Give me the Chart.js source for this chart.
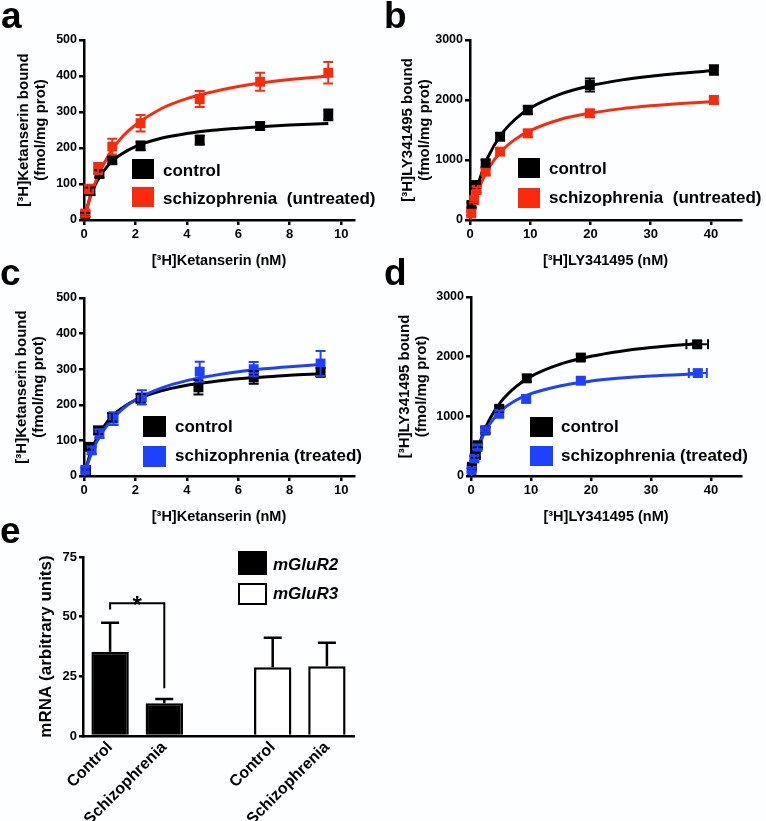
<!DOCTYPE html>
<html>
<head>
<meta charset="utf-8">
<script src="https://cdn.jsdelivr.net/npm/chart.js@4.4.1/dist/chart.umd.min.js"></script>
<style>
  body { margin: 0; background: #fdfeff; }
  #fig { position: relative; width: 766px; height: 821px; background: #fdfeff; overflow: hidden;
         font-family: 'Liberation Sans', Arial, sans-serif; font-weight: bold; color: #000; }
  canvas { position: absolute; }
  .letter { position: absolute; font-size: 37px; line-height: 37px; }
  .box { position: absolute; }
  .lab { position: absolute; font-size: 17px; line-height: 20px; white-space: pre; }
  .it { font-style: italic; }
</style>
</head>
<body>
<div id="fig">
  <canvas id="chartA" width="383" height="273" style="left:0;top:0"></canvas>
  <canvas id="chartB" width="383" height="273" style="left:383px;top:0"></canvas>
  <canvas id="chartC" width="383" height="249" style="left:0;top:280px"></canvas>
  <canvas id="chartD" width="383" height="249" style="left:383px;top:280px"></canvas>
  <canvas id="chartE" width="400" height="281" style="left:0;top:540px"></canvas>

  <div class="letter" style="left:1px;top:-3px">a</div>
  <div class="letter" style="left:384px;top:-3px">b</div>
  <div class="letter" style="left:0;top:254px">c</div>
  <div class="letter" style="left:384px;top:254px">d</div>
  <div class="letter" style="left:0;top:512px">e</div>

  <!-- legends -->
  <div class="box" style="left:132px;top:159px;width:22px;height:20px;background:#000"></div>
  <div class="lab" style="left:163px;top:161px">control</div>
  <div class="box" style="left:132px;top:187px;width:22px;height:20px;background:rgb(250,42,12)"></div>
  <div class="lab" style="left:163px;top:189px">schizophrenia  (untreated)</div>

  <div class="box" style="left:518px;top:158px;width:22px;height:20px;background:#000"></div>
  <div class="lab" style="left:549px;top:159px">control</div>
  <div class="box" style="left:518px;top:188px;width:22px;height:20px;background:rgb(250,42,12)"></div>
  <div class="lab" style="left:549px;top:188px">schizophrenia  (untreated)</div>

  <div class="box" style="left:143px;top:416px;width:23px;height:21px;background:#000"></div>
  <div class="lab" style="left:175px;top:417px">control</div>
  <div class="box" style="left:143px;top:446px;width:23px;height:21px;background:rgb(30,64,255)"></div>
  <div class="lab" style="left:175px;top:446px">schizophrenia (treated)</div>

  <div class="box" style="left:530px;top:417px;width:23px;height:20px;background:#000"></div>
  <div class="lab" style="left:561px;top:417px">control</div>
  <div class="box" style="left:530px;top:446px;width:23px;height:20px;background:rgb(30,64,255)"></div>
  <div class="lab" style="left:561px;top:446px">schizophrenia (treated)</div>

  <div class="box" style="left:238px;top:551px;width:29px;height:24px;background:#000"></div>
  <div class="lab it" style="left:273px;top:555px">mGluR2</div>
  <div class="box" style="left:238px;top:583px;width:25px;height:18px;background:#fff;border:2.5px solid #000"></div>
  <div class="lab it" style="left:273px;top:584px">mGluR3</div>
</div>

<script>
Chart.defaults.font.family = "'Liberation Sans', Arial, sans-serif";
Chart.defaults.font.weight = 'bold';
Chart.defaults.color = '#000';
Chart.defaults.animation = false;

const RED = 'rgb(250,42,12)';
const BLUE = 'rgb(30,64,255)';

// a: [3H]Ketanserin saturation, control vs untreated schizophrenia
const aCtrlX = [0.05, 0.25, 0.6, 1.1, 2.2, 4.5, 6.85, 9.5];
const aCtrlY = [15, 80, 128, 166, 206, 222, 261, 292];
const aCtrlErr = [5, 10, 10, 10, 12, 13, 10, 15];
const aSczX = [0.05, 0.2, 0.55, 1.1, 2.2, 4.5, 6.85, 9.5];
const aSczY = [18, 86, 143, 204, 269, 336, 384, 409];
const aSczErr = [8, 12, 15, 22, 23, 22, 25, 30];
const aFitX = [0, 0.25, 0.5, 1, 1.5, 2, 3, 4, 5, 6, 7, 8, 9.5];
const aCtrlFit = [0, 66, 107, 157, 185, 204, 227, 240, 249, 255, 260, 264, 268];
const aSczFit = [0, 66, 115, 185, 232, 264, 309, 337, 356, 371, 382, 390, 400];

// b: [3H]LY341495 saturation, control vs untreated schizophrenia
const bCtrlX = [0.25, 1.0, 2.6, 5.0, 9.6, 19.9, 40.5];
const bCtrlY = [250, 583, 944, 1389, 1833, 2250, 2500];
const bCtrlErr = [40, 50, 60, 60, 70, 110, 80];
const bSczX = [0.2, 0.7, 1.1, 2.6, 5.0, 9.6, 19.9, 40.5];
const bSczY = [110, 333, 500, 805, 1139, 1444, 1778, 2000];
const bSczErr = [30, 40, 40, 50, 50, 60, 60, 60];
const bFitX = [0, 0.5, 1, 2, 3, 5, 7.5, 10, 15, 20, 25, 30, 35, 40.6];
const bCtrlFit = [0, 255, 467, 800, 1050, 1400, 1679, 1865, 2098, 2238, 2331, 2397, 2447, 2490];
const bSczFit = [0, 207, 379, 647, 847, 1124, 1344, 1490, 1676, 1780, 1852, 1903, 1942, 1975];

// c: [3H]Ketanserin saturation, control vs treated schizophrenia
const cCtrlX = [0.08, 0.2, 0.55, 1.1, 2.2, 4.45, 6.6, 9.2];
const cCtrlY = [17, 82, 128, 165, 218, 249, 277, 291];
const cCtrlErr = [5, 8, 10, 12, 12, 20, 18, 12];
const cSczX = [0.05, 0.3, 0.6, 1.15, 2.25, 4.5, 6.6, 9.2];
const cSczY = [17, 72, 119, 161, 221, 293, 300, 316];
const cSczErr = [6, 10, 12, 18, 20, 28, 20, 35];
const cFitX = [0, 0.25, 0.5, 1, 1.5, 2, 3, 4, 5, 6, 7, 8, 9.2];
const cCtrlFit = [0, 65, 106, 161, 192, 213, 239, 255, 265, 273, 278, 283, 287];
const cSczFit = [0, 56, 97, 152, 188, 214, 247, 268, 282, 293, 301, 307, 313];

// d: [3H]LY341495 saturation, control vs treated schizophrenia
const dCtrlX = [0.15, 0.8, 1.1, 2.4, 4.7, 9.3, 18.3, 37.7];
const dCtrlY = [155, 350, 516, 765, 1126, 1636, 1985, 2207];
const dCtrlErr = [30, 40, 40, 50, 50, 60, 50, 50];
const dCtrlXErr = [0, 0, 0, 0, 0, 0, 0, 1.8];
const dSczX = [0.1, 0.55, 1.1, 2.4, 4.7, 9.2, 18.3, 37.8];
const dSczY = [100, 294, 488, 765, 1042, 1292, 1597, 1725];
const dSczErr = [30, 40, 40, 50, 50, 60, 50, 50];
const dSczXErr = [0, 0, 0, 0, 0, 0, 0, 1.5];
const dFitX = [0, 0.5, 1, 2, 3, 5, 7.5, 10, 15, 20, 25, 30, 38];
const dCtrlFit = [0, 225, 413, 709, 933, 1247, 1499, 1669, 1878, 2006, 2092, 2152, 2220];
const dSczFit = [0, 229, 408, 672, 855, 1093, 1269, 1381, 1514, 1591, 1641, 1676, 1714];

// e: mRNA levels
const eLabels = ['Control', 'Schizophrenia', '', 'Control', 'Schizophrenia'];
const eR2 = [35.3, 13.7, null, null, null];
const eR2Err = [12.2, 1.8, null, null, null];
const eR3 = [null, null, null, 28.8, 29.2];
const eR3Err = [null, null, null, 12.4, 9.9];
const sigTop = 55.6, sigLeftEnd = 53, sigRightEnd = 20;

function pts(xs, ys) {
  return xs.map((v, i) => ({ x: v, y: ys[i] }));
}

// error bars drawn from yErr / xErr arrays on each dataset
const errorBars = {
  id: 'errorBars',
  afterDatasetsDraw(chart) {
    const { ctx, scales: { x, y } } = chart;
    chart.data.datasets.forEach(ds => {
      if (!ds.yErr) return;
      ctx.save();
      ctx.strokeStyle = ds.borderColor;
      ctx.lineWidth = 2;
      ds.data.forEach((p, j) => {
        const px = x.getPixelForValue(p.x), py = y.getPixelForValue(p.y);
        const ey = ds.yErr[j];
        ctx.beginPath();
        if (ey) {
          const y1 = y.getPixelForValue(p.y + ey), y2 = y.getPixelForValue(p.y - ey);
          ctx.moveTo(px, y1); ctx.lineTo(px, y2);
          ctx.moveTo(px - 5, y1); ctx.lineTo(px + 5, y1);
          ctx.moveTo(px - 5, y2); ctx.lineTo(px + 5, y2);
        }
        const ex = ds.xErr ? ds.xErr[j] : 0;
        if (ex) {
          const x1 = x.getPixelForValue(p.x - ex), x2 = x.getPixelForValue(p.x + ex);
          ctx.moveTo(x1, py); ctx.lineTo(x2, py);
          ctx.moveTo(x1, py - 5); ctx.lineTo(x1, py + 5);
          ctx.moveTo(x2, py - 5); ctx.lineTo(x2, py + 5);
        }
        ctx.stroke();
      });
      ctx.restore();
    });
  }
};

function bindingChart(id, o) {
  const curve = (ys, color, order) => ({
    type: 'line', data: pts(o.fitX, ys), borderColor: color, borderWidth: 3,
    pointRadius: 0, showLine: true, cubicInterpolationMode: 'monotone', order: order
  });
  const marks = (xs, ys, err, xerr, color, order) => ({
    data: pts(xs, ys), yErr: err, xErr: xerr, backgroundColor: color, borderColor: color,
    pointStyle: 'rect', pointRadius: 7, pointBorderWidth: 0, clip: false, order: order
  });
  return new Chart(document.getElementById(id), {
    type: 'scatter',
    data: {
      datasets: [
        curve(o.ctrlFit, '#000', 4),
        curve(o.sczFit, o.color, 3),
        marks(o.ctrlX, o.ctrlY, o.ctrlErr, o.ctrlXErr, '#000', 2),
        marks(o.sczX, o.sczY, o.sczErr, o.sczXErr, o.color, 1)
      ]
    },
    options: {
      responsive: false,
      devicePixelRatio: 1,
      layout: { padding: o.pad },
      plugins: { legend: { display: false }, tooltip: { enabled: false } },
      scales: {
        x: {
          type: 'linear', min: 0, max: o.xMax,
          afterFit: s => { s.height = o.xH; },
          ticks: { stepSize: o.xStep, includeBounds: false, padding: 2, font: { size: 13 }, callback: v => String(v) },
          grid: { drawOnChartArea: false, color: '#000', lineWidth: 2.5, tickLength: 5 },
          border: { color: '#000', width: 2.5 },
          title: { display: true, text: o.xTitle, font: { size: 14.5 }, padding: { top: 0, bottom: 3 } }
        },
        y: {
          min: 0, max: o.yMax,
          afterFit: s => { s.width = o.yW; },
          ticks: { stepSize: o.yStep, padding: 2, font: { size: 12.5 }, callback: v => String(v) },
          grid: { drawOnChartArea: false, color: '#000', lineWidth: 2.5, tickLength: 5 },
          border: { color: '#000', width: 2.5 },
          title: { display: true, text: o.yTitle, font: { size: 15, lineHeight: 1.1 }, padding: { top: o.yTitlePad, bottom: 0 } }
        }
      }
    },
    plugins: [errorBars]
  });
}

const ketX = '[³H]Ketanserin (nM)';
const ketY = ['[³H]Ketanserin bound', '(fmol/mg prot)'];
const lyX = '[³H]LY341495 (nM)';
const lyY = ['[³H]LY341495 bound', '(fmol/mg prot)'];

bindingChart('chartA', {
  ctrlX: aCtrlX, ctrlY: aCtrlY, ctrlErr: aCtrlErr, sczX: aSczX, sczY: aSczY, sczErr: aSczErr,
  fitX: aFitX, ctrlFit: aCtrlFit, sczFit: aSczFit, color: RED,
  xMax: 10.5, xStep: 2, yMax: 500, yStep: 100, xTitle: ketX, yTitle: ketY,
  pad: { top: 40, right: 29, left: 0, bottom: 0 }, yW: 84, xH: 53, yTitlePad: 16
});
bindingChart('chartB', {
  ctrlX: bCtrlX, ctrlY: bCtrlY, ctrlErr: bCtrlErr, sczX: bSczX, sczY: bSczY, sczErr: bSczErr,
  fitX: bFitX, ctrlFit: bCtrlFit, sczFit: bSczFit, color: RED,
  xMax: 45, xStep: 10, yMax: 3000, yStep: 1000, xTitle: lyX, yTitle: lyY,
  pad: { top: 40, right: 25, left: 0, bottom: 0 }, yW: 87, xH: 53, yTitlePad: 17
});
bindingChart('chartC', {
  ctrlX: cCtrlX, ctrlY: cCtrlY, ctrlErr: cCtrlErr, sczX: cSczX, sczY: cSczY, sczErr: cSczErr,
  fitX: cFitX, ctrlFit: cCtrlFit, sczFit: cSczFit, color: BLUE,
  xMax: 10.5, xStep: 2, yMax: 500, yStep: 100, xTitle: ketX, yTitle: ketY,
  pad: { top: 18, right: 29, left: 0, bottom: 0 }, yW: 84, xH: 53, yTitlePad: 14
});
bindingChart('chartD', {
  ctrlX: dCtrlX, ctrlY: dCtrlY, ctrlErr: dCtrlErr, ctrlXErr: dCtrlXErr,
  sczX: dSczX, sczY: dSczY, sczErr: dSczErr, sczXErr: dSczXErr,
  fitX: dFitX, ctrlFit: dCtrlFit, sczFit: dSczFit, color: BLUE,
  xMax: 45, xStep: 10, yMax: 3000, yStep: 1000, xTitle: lyX, yTitle: lyY,
  pad: { top: 17, right: 25, left: 0, bottom: 0 }, yW: 88, xH: 53, yTitlePad: 14
});

// e: bars with upper error bars and significance bracket
const barExtras = {
  id: 'barExtras',
  afterDatasetsDraw(chart) {
    const { ctx, scales: { x, y } } = chart;
    ctx.save();
    ctx.strokeStyle = '#000';
    ctx.lineWidth = 2.5;
    chart.data.datasets.forEach(ds => {
      ds.data.forEach((v, j) => {
        if (v == null) return;
        const px = x.getPixelForValue(j);
        const y0 = y.getPixelForValue(v), y1 = y.getPixelForValue(v + ds.err[j]);
        ctx.beginPath();
        ctx.moveTo(px, y0); ctx.lineTo(px, y1);
        ctx.moveTo(px - 9, y1); ctx.lineTo(px + 9, y1);
        ctx.stroke();
      });
    });
    const x1 = x.getPixelForValue(0), x2 = x.getPixelForValue(1);
    const yt = y.getPixelForValue(sigTop);
    ctx.lineWidth = 2;
    ctx.beginPath();
    ctx.moveTo(x1, y.getPixelForValue(sigLeftEnd));
    ctx.lineTo(x1, yt);
    ctx.lineTo(x2, yt);
    ctx.lineTo(x2, y.getPixelForValue(sigRightEnd));
    ctx.stroke();
    ctx.fillStyle = '#000';
    ctx.font = "bold 24px 'Liberation Sans', Arial, sans-serif";
    ctx.textAlign = 'center';
    ctx.textBaseline = 'alphabetic';
    ctx.fillText('*', (x1 + x2) / 2, yt + 10);
    ctx.restore();
  }
};

new Chart(document.getElementById('chartE'), {
  type: 'bar',
  data: {
    labels: eLabels,
    datasets: [
      { label: 'mGluR2', data: eR2, err: eR2Err, backgroundColor: '#000', borderColor: '#000', borderWidth: 2.5 },
      { label: 'mGluR3', data: eR3, err: eR3Err, backgroundColor: '#fff', borderColor: '#000', borderWidth: 2.5 }
    ]
  },
  options: {
    responsive: false,
    devicePixelRatio: 1,
    layout: { padding: { top: 17, right: 46, left: 0, bottom: 0 } },
    datasets: { bar: { grouped: false, categoryPercentage: 1, barPercentage: 0.69 } },
    plugins: { legend: { display: false }, tooltip: { enabled: false } },
    scales: {
      x: {
        afterFit: s => { s.height = 85; },
        ticks: { minRotation: 45, maxRotation: 45, padding: -6, font: { size: 16 }, autoSkip: false },
        grid: { display: false },
        border: { color: '#000', width: 2.5 }
      },
      y: {
        min: 0, max: 75,
        afterFit: s => { s.width = 83; },
        ticks: { stepSize: 25, padding: 2, font: { size: 13 } },
        grid: { drawOnChartArea: false, color: '#000', lineWidth: 2.5, tickLength: 4 },
        border: { color: '#000', width: 2.5 },
        title: { display: true, text: 'mRNA (arbitrary units)', font: { size: 17 }, padding: { top: 36, bottom: 0 } }
      }
    }
  },
  plugins: [barExtras]
});
</script>
</body>
</html>
